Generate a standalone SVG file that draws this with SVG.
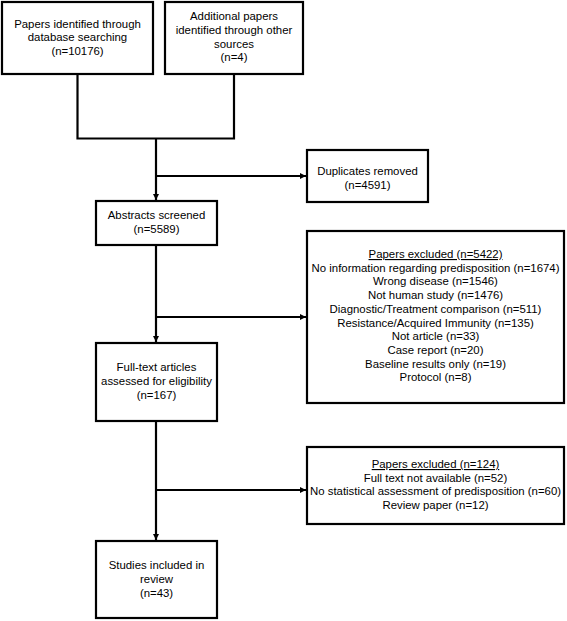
<svg xmlns="http://www.w3.org/2000/svg" width="567" height="621" viewBox="0 0 567 621">
<style>
.box{fill:#fff;stroke:#000;stroke-width:2.2}
.t{font-family:"Liberation Sans",Arial,sans-serif;font-size:11.4px;fill:#000;text-anchor:middle}
.u{text-decoration:underline}
.c{fill:none;stroke:#000;stroke-width:2.2}
</style>
<defs>
<marker id="ah" markerUnits="userSpaceOnUse" markerWidth="7" markerHeight="7" refX="6" refY="3" orient="auto">
<path d="M0,0 L6,3 L0,6 z" fill="#000"/>
</marker>
</defs>
<rect width="567" height="621" fill="#fff"/>
<g id="connectors">
<polyline class="c" points="77.5,74 77.5,138.5 234,138.5 234,74"/>
<line class="c" x1="156" y1="138.5" x2="156" y2="200" marker-end="url(#ah)"/>
<line class="c" x1="156" y1="176" x2="306" y2="176" marker-end="url(#ah)"/>
<line class="c" x1="156" y1="245" x2="156" y2="342" marker-end="url(#ah)"/>
<line class="c" x1="156" y1="317" x2="306" y2="317" marker-end="url(#ah)"/>
<line class="c" x1="156" y1="421" x2="156" y2="540" marker-end="url(#ah)"/>
<line class="c" x1="156" y1="490" x2="306" y2="490" marker-end="url(#ah)"/>
</g>
<g id="db">
<rect class="box" x="2" y="2" width="151" height="72"/>
<text class="t" x="77.5" y="27.5">Papers identified through</text>
<text class="t" x="77.5" y="41.3">database searching</text>
<text class="t" x="77.5" y="55.1">(n=10176)</text>
</g>
<g id="other">
<rect class="box" x="165" y="2" width="138" height="72"/>
<text class="t" x="234" y="20">Additional papers</text>
<text class="t" x="234" y="33.8">identified through other</text>
<text class="t" x="234" y="47.6">sources</text>
<text class="t" x="234" y="61.4">(n=4)</text>
</g>
<g id="dup">
<rect class="box" x="307" y="150" width="121" height="52"/>
<text class="t" x="367.5" y="175">Duplicates removed</text>
<text class="t" x="367.5" y="188.8">(n=4591)</text>
</g>
<g id="abstracts">
<rect class="box" x="96" y="201" width="121" height="44"/>
<text class="t" x="156.5" y="219">Abstracts screened</text>
<text class="t" x="156.5" y="232.8">(n=5589)</text>
</g>
<g id="excl1">
<rect class="box" x="307" y="231" width="257" height="172"/>
<text class="t u" x="435.5" y="258">Papers excluded (n=5422)</text>
<text class="t" x="435.5" y="271.7">No information regarding predisposition (n=1674)</text>
<text class="t" x="435.5" y="285.4">Wrong disease (n=1546)</text>
<text class="t" x="435.5" y="299.1">Not human study (n=1476)</text>
<text class="t" x="435.5" y="312.8">Diagnostic/Treatment comparison (n=511)</text>
<text class="t" x="435.5" y="326.5">Resistance/Acquired Immunity (n=135)</text>
<text class="t" x="435.5" y="340.2">Not article (n=33)</text>
<text class="t" x="435.5" y="353.9">Case report (n=20)</text>
<text class="t" x="435.5" y="367.6">Baseline results only (n=19)</text>
<text class="t" x="435.5" y="381.3">Protocol (n=8)</text>
</g>
<g id="fulltext">
<rect class="box" x="96" y="343" width="121" height="78"/>
<text class="t" x="156.5" y="371">Full-text articles</text>
<text class="t" x="156.5" y="384.8">assessed for eligibility</text>
<text class="t" x="156.5" y="398.6">(n=167)</text>
</g>
<g id="excl2">
<rect class="box" x="307" y="447" width="257" height="77"/>
<text class="t u" x="435.5" y="468">Papers excluded (n=124)</text>
<text class="t" x="435.5" y="481.7">Full text not available (n=52)</text>
<text class="t" x="435.5" y="495.4">No statistical assessment of predisposition (n=60)</text>
<text class="t" x="435.5" y="509.1">Review paper (n=12)</text>
</g>
<g id="included">
<rect class="box" x="96" y="541" width="121" height="77"/>
<text class="t" x="156.5" y="569">Studies included in</text>
<text class="t" x="156.5" y="582.8">review</text>
<text class="t" x="156.5" y="596.6">(n=43)</text>
</g>
</svg>
